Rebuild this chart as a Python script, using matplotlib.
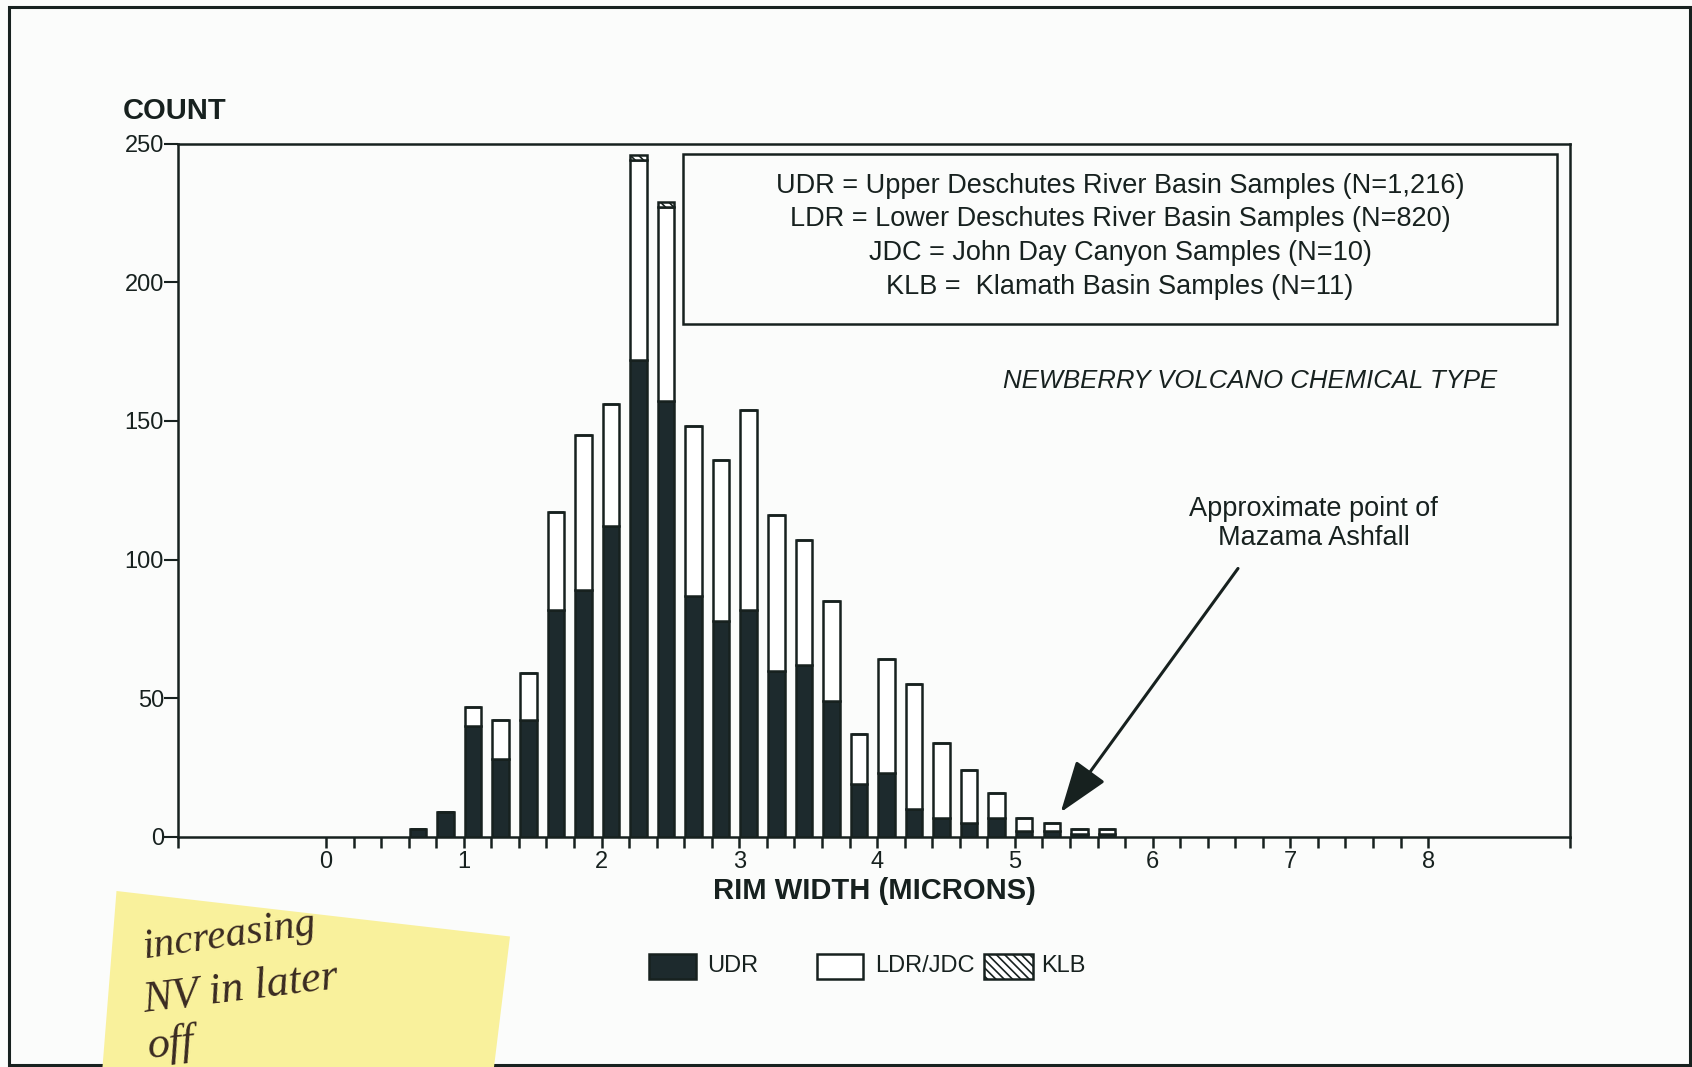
import numpy as np
import matplotlib
matplotlib.use("Agg")
import matplotlib.pyplot as plt
from matplotlib.patches import Rectangle, Polygon
from matplotlib import font_manager

# ---------------- data ----------------
bin_starts = [0.6, 0.8, 1.0, 1.2, 1.4, 1.6, 1.8, 2.0, 2.2, 2.4, 2.6, 2.8, 3.0,
              3.2, 3.4, 3.6, 3.8, 4.0, 4.2, 4.4, 4.6, 4.8, 5.0, 5.2, 5.4, 5.6]
udr = [3, 9, 40, 28, 42, 82, 89, 112, 172, 157, 87, 78, 82,
       60, 62, 49, 19, 23, 10, 7, 5, 7, 2, 2, 1, 1]
ldr_jdc = [0, 0, 7, 14, 17, 35, 56, 44, 72, 70, 61, 58, 72,
           56, 45, 36, 18, 41, 45, 27, 19, 9, 5, 3, 2, 2]
klb = [0, 0, 0, 0, 0, 0, 0, 0, 2, 2, 0, 0, 0,
       0, 0, 0, 0, 0, 0, 0, 0, 0, 0, 0, 0, 0]

x_major = [0, 1, 2, 3, 4, 5, 6, 7, 8]
y_ticks = [0, 50, 100, 150, 200, 250]
legend_lines = ["UDR = Upper Deschutes River Basin Samples (N=1,216)",
                "LDR = Lower Deschutes River Basin Samples (N=820)",
                "JDC = John Day Canyon Samples (N=10)",
                "KLB =  Klamath Basin Samples (N=11)"]

# ---------------- style ----------------
names = {f.name for f in font_manager.fontManager.ttflist}
SANS = "Liberation Sans" if "Liberation Sans" in names else "DejaVu Sans"
DARK = "#1d2a2d"
EDGE = "#17211f"
BG = "#fbfcfb"
plt.rcParams["font.family"] = [SANS, "DejaVu Sans"]
plt.rcParams["hatch.linewidth"] = 1.2
plt.rcParams["hatch.color"] = EDGE

fig = plt.figure(figsize=(16.92, 10.67), dpi=100, facecolor=BG)
ax = fig.add_axes([0.1052, 0.2156, 0.8227, 0.6499], facecolor=BG)

x = np.array(bin_starts) + 0.008
u = np.array(udr)
l = np.array(ldr_jdc)
k = np.array(klb)
w = 0.12
common = dict(width=w, align="edge", edgecolor=EDGE, linewidth=1.8, zorder=3)
ax.bar(x, u, color=DARK, **common)
ax.bar(x, l, bottom=u, color="white", **common)
ax.bar(x, k, bottom=u + l, color="white", hatch="\\\\\\\\", **common)

ax.set_xlim(-1.075, 9.03)
ax.set_ylim(0, 250)
for s in ax.spines.values():
    s.set_linewidth(1.8)
    s.set_color(EDGE)

ax.set_xticks(x_major)
ax.set_xticklabels([str(v) for v in x_major])
minor = list(np.round(np.arange(0, 8.001, 0.2), 2)) + [-1.075, 9.03]
ax.set_xticks(minor, minor=True)
ax.tick_params(axis="x", which="both", direction="out", length=8, width=1.8,
               color=EDGE, labelsize=17, pad=2, labelcolor=EDGE)
ax.set_yticks(y_ticks)
ax.tick_params(axis="y", which="major", direction="out", length=10, width=1.5,
               color=EDGE, labelsize=17, pad=0, labelcolor=EDGE)

ax.set_xlabel("RIM WIDTH (MICRONS)", fontsize=21, fontweight="bold", color=EDGE,
              labelpad=3)
fig.text(0.0727, 0.8888, "COUNT", fontsize=21, fontweight="bold", color=EDGE,
         ha="left", va="baseline")

# legend box inside axes
ax.add_patch(Rectangle((0.3628, 0.7403), 0.6279, 0.2441, transform=ax.transAxes,
                       fill=False, edgecolor=EDGE, linewidth=1.8, zorder=4))
for txt, yy in zip(legend_lines, [0.9393, 0.8911, 0.8414, 0.7932]):
    ax.text(0.6767, yy, txt, transform=ax.transAxes, ha="center", va="center",
            fontsize=19.5, color=EDGE, zorder=5)

ax.text(0.7698, 0.6578, "NEWBERRY VOLCANO CHEMICAL TYPE", transform=ax.transAxes,
        ha="center", va="center", fontsize=18.5, style="italic", color=EDGE)

ax.text(7.17, 113, "Approximate point of\nMazama Ashfall", ha="center", va="center",
        fontsize=19.5, color=EDGE, linespacing=1.15)
ax.annotate("", xy=(5.333, 8.9), xytext=(6.62, 96.8),
            arrowprops=dict(arrowstyle="-|>,head_length=0.4,head_width=0.14",
                            mutation_scale=80, color=EDGE, lw=2.2,
                            shrinkA=0, shrinkB=0),
            zorder=6)

# bottom legend (figure coords)
def leg_patch(x0, x1, **kw):
    fig.add_artist(Rectangle((x0, 0.0825), x1 - x0, 0.0234, transform=fig.transFigure,
                             edgecolor=EDGE, linewidth=1.8, **kw))

leg_patch(0.3833, 0.4113, facecolor=DARK)
fig.text(0.4177, 0.0948, "UDR", fontsize=17, color=EDGE, va="center", ha="left")
leg_patch(0.4827, 0.5102, facecolor="white")
fig.text(0.5172, 0.0948, "LDR/JDC", fontsize=17, color=EDGE, va="center", ha="left")
leg_patch(0.5816, 0.6103, facecolor="white", hatch="\\\\\\\\")
fig.text(0.6154, 0.0948, "KLB", fontsize=17, color=EDGE, va="center", ha="left")

# page frame
fig.add_artist(Rectangle((9 / 1692, 1 - 1065 / 1067), (1690 - 9) / 1692, (1065 - 7) / 1067,
                         transform=fig.transFigure, fill=False, edgecolor=EDGE,
                         linewidth=2.2))

# sticky note
corners = [(116.5, 891), (510, 936.5), (494, 1067), (102.5, 1067)]
fig.add_artist(Polygon([(cx / 1692, 1 - cy / 1067) for cx, cy in corners],
                       closed=True, transform=fig.transFigure, facecolor="#f9f19c",
                       edgecolor="none", zorder=10))
note_font = ["Liberation Serif", "DejaVu Serif"]
fig.text(140 / 1692, 1 - 958 / 1067, "increasing", fontsize=30, style="italic",
         family=note_font, color="#3a2b22", rotation=8, ha="left", va="baseline", zorder=11)
fig.text(140 / 1692, 1 - 1012 / 1067, "NV in later", fontsize=32, style="italic",
         family=note_font, color="#3a2b22", rotation=7, ha="left", va="baseline", zorder=11)
fig.text(145 / 1692, 1 - 1058 / 1067, "off", fontsize=32, style="italic",
         family=note_font, color="#3a2b22", rotation=6, ha="left", va="baseline", zorder=11)

fig.savefig("out.png", dpi=100, facecolor=BG)
